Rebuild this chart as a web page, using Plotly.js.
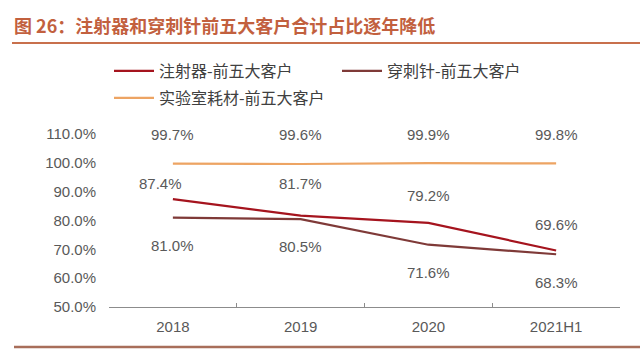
<!DOCTYPE html>
<html>
<head>
<meta charset="utf-8">
<script src="https://cdn.plot.ly/plotly-3.0.1.min.js"></script>
<style>html,body{margin:0;padding:0;background:#fff;}#chart{width:640px;height:350px;}</style>
</head>
<body>
<div id="chart"></div>
<script>
// ---- data ----
const categories = ["2018", "2019", "2020", "2021H1"];
const seriesNames = ["注射器-前五大客户", "穿刺针-前五大客户", "实验室耗材-前五大客户"];
const syringe = [87.4, 81.7, 79.2, 69.6];
const needle = [81.0, 80.5, 71.6, 68.3];
const labware = [99.7, 99.6, 99.9, 99.8];
const yTicks = [50, 60, 70, 80, 90, 100, 110];

// ---- styles / label offsets (px) ----
const colors = ["#A5141E", "#7F3A38", "#EDA463"];
const shiftSyringe = [16, 32, 27, 26];
const shiftNeedle = [-28, -27, -28, -28];
const shiftLab = [29, 29, 29, 29];
const xShiftSyringe = [-12, 0, 0, 0];

const FONT = "'Liberation Sans', Arial, 'Noto Sans CJK SC', sans-serif";
const CJK = "'Noto Sans CJK SC', 'Liberation Sans', sans-serif";

const allSeries = [syringe, needle, labware];
const traces = allSeries.map((vals, i) => ({
  type: "scatter",
  mode: "lines",
  x: categories,
  y: vals,
  name: seriesNames[i],
  line: {color: colors[i], width: 2.2},
  legend: i < 2 ? "legend" : "legend2",
  hoverinfo: "skip"
}));

const annotations = [];
const shifts = [shiftSyringe, shiftNeedle, shiftLab];
allSeries.forEach((vals, s) => {
  vals.forEach((v, i) => {
    annotations.push({
      x: i, y: v, xref: "x", yref: "y",
      text: v.toFixed(1) + "%",
      showarrow: false,
      yshift: shifts[s][i],
      xshift: s === 0 ? xShiftSyringe[i] : 0,
      yanchor: "middle",
      font: {family: FONT, size: 15, color: "#595959"}
    });
  });
});

const legendCommon = {
  orientation: "h",
  xanchor: "left",
  yanchor: "middle",
  itemwidth: 40,
  entrywidth: 173,
  font: {family: CJK, size: 16, color: "#404040"},
  bgcolor: "rgba(0,0,0,0)",
  itemclick: false
};

const layout = {
  width: 640, height: 350,
  margin: {l: 109, r: 20, t: 134, b: 43},
  paper_bgcolor: "#ffffff",
  plot_bgcolor: "#ffffff",
  showlegend: true,
  title: {
    text: "<b>图 26：注射器和穿刺针前五大客户合计占比逐年降低</b>",
    xref: "container", yref: "container",
    x: 14 / 640, xanchor: "left",
    y: 1 - 27 / 350, yanchor: "middle",
    font: {family: CJK, size: 18, color: "#C2603E"}
  },
  xaxis: {
    type: "category",
    range: [-0.5, 3.5],
    showline: true, linecolor: "#8C8C8C", linewidth: 1,
    ticks: "inside", tickson: "boundaries", ticklen: 4, tickcolor: "#8C8C8C",
    showgrid: false, zeroline: false,
    ticklabelstandoff: 6,
    tickfont: {family: FONT, size: 15, color: "#595959"}
  },
  yaxis: {
    range: [50, 110],
    tickvals: yTicks,
    ticktext: yTicks.map(v => v.toFixed(1) + "%"),
    showline: false, showgrid: false, zeroline: false,
    ticks: "",
    ticklabelstandoff: 12,
    tickfont: {family: FONT, size: 15, color: "#595959"}
  },
  legend: Object.assign({}, legendCommon, {x: 0, y: (307 - 71) / 173}),
  legend2: Object.assign({}, legendCommon, {x: 0, y: (307 - 98) / 173}),
  annotations: annotations,
  shapes: [
    {type: "line", xref: "paper", yref: "paper",
     x0: (12 - 109) / 511, x1: (640 - 109) / 511,
     y0: (307 - 43) / 173, y1: (307 - 43) / 173,
     line: {color: "#C8704C", width: 2}},
    {type: "line", xref: "paper", yref: "paper",
     x0: (14 - 109) / 511, x1: (640 - 109) / 511,
     y0: (307 - 347) / 173, y1: (307 - 347) / 173,
     line: {color: "#A86E5A", width: 2.5}}
  ]
};

Plotly.newPlot("chart", traces, layout, {displayModeBar: false, staticPlot: true});
</script>
</body>
</html>
